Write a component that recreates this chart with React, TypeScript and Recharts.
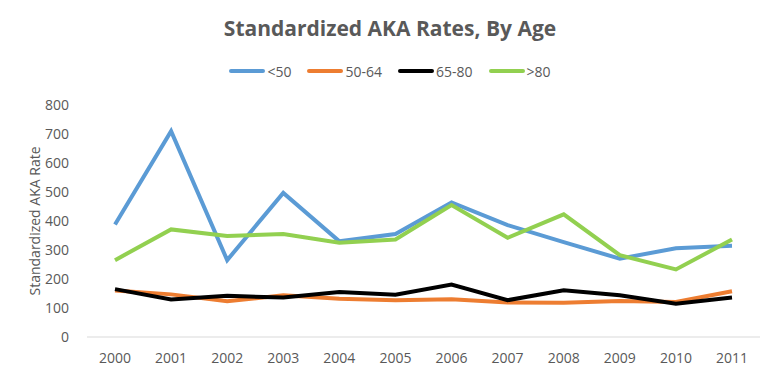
import React from "react";
import { LineChart, Line, XAxis, YAxis, Legend } from "recharts";

const years = ["2000", "2001", "2002", "2003", "2004", "2005", "2006", "2007", "2008", "2009", "2010", "2011"];
const under50 = [388, 710, 265, 497, 330, 355, 464, 386, 327, 270, 306, 315];
const age50to64 = [160, 147, 123, 144, 132, 127, 130, 119, 118, 124, 121, 158];
const age65to80 = [165, 129, 142, 136, 155, 146, 181, 127, 161, 144, 115, 136];
const over80 = [265, 371, 348, 355, 325, 336, 455, 342, 423, 282, 233, 336];
const yTicks = [0, 100, 200, 300, 400, 500, 600, 700, 800];

const SERIES = [
  { key: "<50", values: under50, color: "#5B9BD5" },
  { key: "50-64", values: age50to64, color: "#ED7D31" },
  { key: "65-80", values: age65to80, color: "#000000" },
  { key: ">80", values: over80, color: "#92D050" },
];

const data = years.map((year, i) => {
  const row: Record<string, string | number> = { year };
  SERIES.forEach((s) => {
    row[s.key] = s.values[i];
  });
  return row;
});

const FONT = "'Open Sans', sans-serif";
const TEXT = "#595959";

function LegendRow() {
  return (
    <div
      style={{
        display: "flex",
        justifyContent: "center",
        gap: 16,
        height: 20,
        fontFamily: FONT,
        fontSize: 14,
        color: TEXT,
      }}
    >
      {SERIES.map((s) => (
        <div key={s.key} style={{ display: "flex", alignItems: "center" }}>
          <span style={{ width: 36, height: 4, background: s.color, display: "inline-block", marginRight: 2, borderRadius: 2 }} />
          <span>{s.key}</span>
        </div>
      ))}
    </div>
  );
}

export default function App() {
  return (
    <div style={{ position: "absolute", left: 0, top: 0, width: 780, height: 377, background: "#fff" }}>
      <div
        style={{
          position: "absolute",
          top: 14,
          width: 780,
          textAlign: "center",
          fontFamily: FONT,
          fontWeight: 700,
          fontSize: 21,
          color: TEXT,
        }}
      >
        Standardized AKA Rates, By Age
      </div>
      <LineChart width={780} height={377} data={data} margin={{ top: 85, right: 20, left: 0, bottom: 10 }}>
        <XAxis
          dataKey="year"
          height={30}
          padding={{ left: 28, right: 28 }}
          axisLine={{ stroke: "#D9D9D9" }}
          tickLine={false}
          tickMargin={10}
          tick={{ fill: TEXT, fontSize: 14, fontFamily: FONT }}
        />
        <YAxis
          domain={[0, 800]}
          ticks={yTicks}
          width={87}
          axisLine={false}
          tickLine={false}
          tickMargin={12}
          tick={{ fill: TEXT, fontSize: 14, fontFamily: FONT }}
          label={{
            value: "Standardized AKA Rate",
            angle: -90,
            position: "center",
            dx: -8,
            style: { fill: TEXT, fontSize: 14, fontFamily: FONT },
          }}
        />
        <Legend
          verticalAlign="top"
          height={20}
          content={<LegendRow />}
          wrapperStyle={{ top: 61, left: 0, width: 780 }}
        />
        {SERIES.map((s) => (
          <Line
            key={s.key}
            dataKey={s.key}
            stroke={s.color}
            strokeWidth={4}
            dot={false}
            isAnimationActive={false}
          />
        ))}
      </LineChart>
    </div>
  );
}
